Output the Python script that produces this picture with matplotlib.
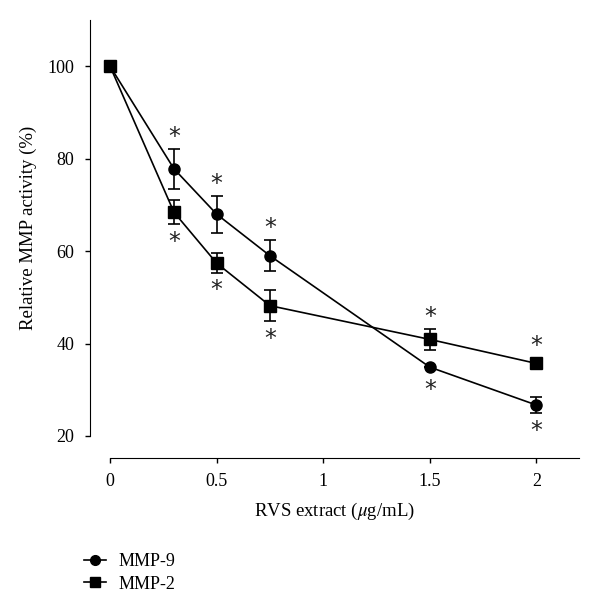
import matplotlib
matplotlib.use('Agg')
import matplotlib.pyplot as plt
from matplotlib.lines import Line2D

# 데이터
doses = [0, 0.3, 0.5, 0.75, 1.5, 2]
mmp9 = [100, 77.8, 68.0, 59.0, 34.9, 26.7]
mmp9_err = [0, 4.3, 4.0, 3.4, 0, 1.8]
mmp2 = [100, 68.4, 57.4, 48.2, 40.9, 35.7]
mmp2_err = [0, 2.6, 2.1, 3.4, 2.2, 0]
# 별표 위치: 'up' 이면 위, 'down' 이면 아래
mmp9_star = [None, 'up', 'up', 'up', 'down', 'down']
mmp2_star = [None, 'down', 'down', 'down', 'up', 'up']

plt.rcParams['font.family'] = ['Liberation Serif', 'DejaVu Serif']
plt.rcParams['mathtext.fontset'] = 'stix'

fig = plt.figure(figsize=(6, 6.15), dpi=100)
ax = fig.add_axes([90 / 600, 1 - 436 / 615, (579 - 90) / 600, (436 - 20) / 615])

ax.errorbar(doses, mmp9, yerr=mmp9_err, color='black', marker='o', markersize=8,
            linewidth=1.2, elinewidth=1.2, capsize=4, capthick=1.2)
ax.errorbar(doses, mmp2, yerr=mmp2_err, color='black', marker='s', markersize=8,
            linewidth=1.2, elinewidth=1.2, capsize=4, capthick=1.2)

# 별표
for vals, errs, stars in [(mmp9, mmp9_err, mmp9_star), (mmp2, mmp2_err, mmp2_star)]:
    for x, y, e, s in zip(doses, vals, errs, stars):
        if s is None:
            continue
        gap = max(e, 1.2) + 2.6
        yy = y + gap if s == 'up' else y - gap - 1.2
        ax.text(x, yy, '*', ha='center', va='center', fontsize=17,
                family=['DejaVu Sans'], color='#222222')

ax.set_xlim(-0.094, 2.2)
ax.set_ylim(20, 110)
ax.set_xticks([0, 0.5, 1, 1.5, 2])
ax.set_xticklabels(['0', '0.5', '1', '1.5', '2'])
ax.set_yticks([20, 40, 60, 80, 100])

ax.spines['top'].set_visible(False)
ax.spines['right'].set_visible(False)
ax.spines['bottom'].set_position(('outward', 16))  # 포인트 단위 (약 22px)
ax.spines['bottom'].set_bounds(0, 2.2)
ax.spines['left'].set_bounds(20, 110)
ax.tick_params(axis='both', labelsize=13, direction='out', length=3.5, width=1)
ax.tick_params(axis='x', pad=7)
ax.tick_params(axis='y', pad=8)

ax.set_xlabel(r'RVS extract ($\mu$g/mL)', fontsize=13.5, labelpad=8)
ax.set_ylabel('Relative MMP activity (%)', fontsize=13.5, labelpad=7)

handles = [Line2D([], [], color='black', marker='o', markersize=7, linewidth=1.2),
           Line2D([], [], color='black', marker='s', markersize=7, linewidth=1.2)]
fig.legend(handles, ['MMP-9', 'MMP-2'], loc='upper left', bbox_to_anchor=(68 / 600, 1 - 537 / 615),
           frameon=False, fontsize=13, handlelength=1.2, handletextpad=0.7, labelspacing=0.3)

fig.savefig('out.png', dpi=100)
